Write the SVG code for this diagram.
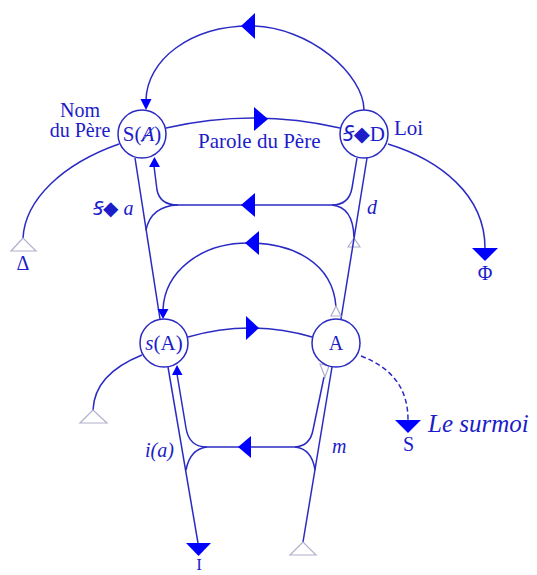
<svg xmlns="http://www.w3.org/2000/svg" width="537" height="575" viewBox="0 0 537 575">
<style>
.ln{fill:none;stroke:#2b2bc4;stroke-width:1.5}
.dash{stroke-dasharray:5,3}
.ah{fill:#0000ff;stroke:none}
.oh{fill:#ffffff;stroke:#b0b0cc;stroke-width:1.2}
.nd{fill:#ffffff;stroke:#2b2bc4;stroke-width:1.5}
text{font-family:"Liberation Serif","DejaVu Serif","Noto Sans",serif;fill:#1c1cc8}
.t21{font-size:21px}
.t20{font-size:20px}
.it{font-style:italic}
</style>
<rect width="537" height="575" fill="#ffffff"/>
<g id="connectors">
  <!-- top loop -->
  <path class="ln" d="M364,110 C364,75 310,26 250,26 C190,26 147,60 146,100"/>
  <polygon class="ah" points="241,26 255,13 255,39"/>
  <polygon class="ah" points="140.5,99 151.5,99 146,110"/>
  <!-- Parole du Pere -->
  <path class="ln" d="M166,128 Q253,108 340,128"/>
  <polygon class="ah" points="268,119 254,107 254,131"/>
  <!-- to Delta -->
  <path class="ln" d="M119,144 C62,164 25,200 23,238"/>
  <polygon class="oh" points="23,238 11,251 36,251"/>
  <!-- to Phi -->
  <path class="ln" d="M388,144 C440,160 485,195 485,248"/>
  <polygon class="ah" points="472,248 498,248 485,261"/>
  <!-- S(A) to s(A) -->
  <path class="ln" d="M135,158 L160,319"/>
  <!-- upper cross link -->
  <path class="ln" d="M154,166 L157,190 Q160,205 178,205 L332,205 Q349,205 352,188 L357,158"/>
  <path class="ln" d="M178,205 Q151,206 146,230"/>
  <path class="ln" d="M332,205 Q353,207 354,237"/>
  <polygon class="ah" points="149,167 160,167 154.5,157"/>
  <polygon class="ah" points="241,205 255,193 255,217"/>
  <polygon class="oh" points="354,238 348,247 360,247"/>
  <!-- S<>D to A -->
  <path class="ln" d="M367,158 L341,319"/>
  <!-- middle loop -->
  <path class="ln" d="M336,307 C333,262 292,243 248,243 C200,243 165,272 163,309"/>
  <polygon class="ah" points="245,243 259,231 259,255"/>
  <polygon class="ah" points="157.5,309 168.5,309 163,319"/>
  <polygon class="oh" points="336,306 331,316 341,316"/>
  <!-- s(A) to A -->
  <path class="ln" d="M188,337 Q250,319 312,337"/>
  <polygon class="ah" points="259,328 246,316 246,340"/>
  <!-- s(A) left -->
  <path class="ln" d="M142,355 C112,367 94,385 93,410"/>
  <polygon class="oh" points="93,410 80,423 107,423"/>
  <!-- surmoi dashed -->
  <path class="ln dash" d="M361,356 C392,368 408,388 408,420"/>
  <polygon class="ah" points="395,420 421,420 408,433"/>
  <!-- bottom -->
  <path class="ln" d="M168,367 L198,543"/>
  <polygon class="ah" points="186,543 211,543 198.5,556"/>
  <path class="ln" d="M177,374 L186,428 Q189,447 207,447 L295,447 Q310,446 313,430 L324,377"/>
  <path class="ln" d="M207,447 Q190,449 186,470"/>
  <path class="ln" d="M295,447 Q312,449 315,470"/>
  <polygon class="ah" points="172,375 182.5,375 177,365"/>
  <polygon class="ah" points="238,447 251,436 251,458"/>
  <path class="ln" d="M332,367 L303,542"/>
  <polygon class="oh" points="303,542 290,555 316,555"/>
  <polygon class="oh" points="320,364 329,366 325,377"/>
</g>
<g id="node-SA">
  <circle class="nd" cx="142" cy="134" r="24"/>
  <text class="t21" x="142" y="141" text-anchor="middle">S(<tspan class="it">Ⱥ</tspan>)</text>
</g>
<g id="node-SD">
  <circle class="nd" cx="364" cy="134" r="24"/>
  <text class="t21" x="364" y="141" text-anchor="middle"><tspan class="it">Ꞩ</tspan>◆D</text>
</g>
<g id="node-sA">
  <circle class="nd" cx="164" cy="343" r="24"/>
  <text class="t21" x="164" y="350" text-anchor="middle"><tspan class="it">s</tspan>(A)</text>
</g>
<g id="node-A">
  <circle class="nd" cx="336" cy="343" r="24"/>
  <text class="t20" x="336" y="350" text-anchor="middle">A</text>
</g>
<g id="labels">
  <text class="t20" x="80" y="117" text-anchor="middle">Nom</text>
  <text class="t20" x="80" y="137" text-anchor="middle">du Père</text>
  <text class="t21" x="198" y="148">Parole du Père</text>
  <text class="t21" x="394" y="135">Loi</text>
  <text class="t20" x="93" y="215"><tspan class="it">Ꞩ</tspan>◆<tspan class="it"> a</tspan></text>
  <text class="t20 it" x="367" y="214">d</text>
  <text class="t20 it" x="145" y="457">i(a)</text>
  <text class="t20 it" x="332" y="453">m</text>
  <text class="t20" x="23" y="270" text-anchor="middle">Δ</text>
  <text class="t20" x="485" y="280" text-anchor="middle">Φ</text>
  <text class="t20" x="408.5" y="451" text-anchor="middle">S</text>
  <text class="it" x="428" y="432" style="font-size:25px">Le surmoi</text>
  <text x="199" y="570" text-anchor="middle" style="font-size:17px">I</text>
</g>
</svg>
